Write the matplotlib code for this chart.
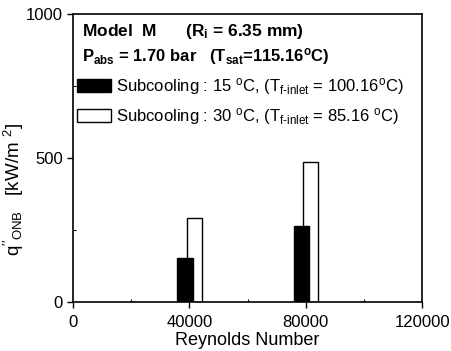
import matplotlib
matplotlib.use("Agg")
import matplotlib.pyplot as plt
import numpy as np

# values
reynolds = np.array([40000, 80000])
q_sub15 = [152, 263]   # subcooling 15 C
q_sub30 = [290, 486]   # subcooling 30 C
x_ticks = [0, 40000, 80000, 120000]
y_ticks = [0, 500, 1000]

plt.rcParams['font.family'] = ['Liberation Sans', 'DejaVu Sans']
plt.rcParams['mathtext.fontset'] = 'custom'
plt.rcParams['mathtext.rm'] = 'Liberation Sans'
plt.rcParams['mathtext.it'] = 'Liberation Sans:italic'
plt.rcParams['mathtext.bf'] = 'Liberation Sans:bold'

fig = plt.figure(figsize=(4.51, 3.51), dpi=100)
ax = fig.add_axes([0.162, 0.141, 0.774, 0.818])

width = 5200
# open bars sit slightly right of and behind the filled ones
ax.bar(reynolds + 1700, q_sub30, width=width, facecolor='white',
       edgecolor='black', linewidth=1.0, zorder=2,
       label=r"Subcooling : 30 $^{\rm o}$C, (T$_{\rm f\text{-}inlet}$ = 85.16 $^{\rm o}$C)")
ax.bar(reynolds - 1500, q_sub15, width=width, facecolor='black',
       edgecolor='black', linewidth=1.0, zorder=3,
       label=r"Subcooling : 15 $^{\rm o}$C, (T$_{\rm f\text{-}inlet}$ = 100.16$^{\rm o}$C)")

ax.set_xlim(0, 120000)
ax.set_ylim(0, 1000)
ax.set_xticks(x_ticks)
ax.set_yticks(y_ticks)
ax.set_xticks([20000, 60000, 100000], minor=True)
ax.set_yticks([250, 750], minor=True)
ax.tick_params(which='major', direction='out', length=4, width=1.0, labelsize=12)
ax.tick_params(axis='x', which='major', pad=6)
ax.tick_params(which='minor', direction='in', length=2, width=0.8)
for s in ax.spines.values():
    s.set_linewidth(1.2)

ax.set_xlabel("Reynolds Number", fontsize=13, labelpad=1)
ax.set_ylabel(r"q$''_{\rm ONB}$   [kW/m $^2$]", fontsize=13.5)
ax.yaxis.set_label_coords(-0.135, 0.39)

ax.text(0.026, 0.941, r"Model  M      (R$_{\mathbf{i}}$ = 6.35 mm)",
        transform=ax.transAxes, fontsize=12.5, fontweight='bold', va='center')
ax.text(0.026, 0.852, r"P$_{\mathbf{abs}}$ = 1.70 bar   (T$_{\mathbf{sat}}$=115.16$^{\mathbf{o}}$C)",
        transform=ax.transAxes, fontsize=12, fontweight='bold', va='center')

handles, labels = ax.get_legend_handles_labels()
ax.legend(handles[::-1], labels[::-1], loc='upper left',
          bbox_to_anchor=(0.01, 0.785), frameon=False, fontsize=12,
          handlelength=2.04, handleheight=0.84, handletextpad=0.3,
          labelspacing=0.55, borderpad=0, borderaxespad=0)

fig.savefig("out.png", dpi=100)
